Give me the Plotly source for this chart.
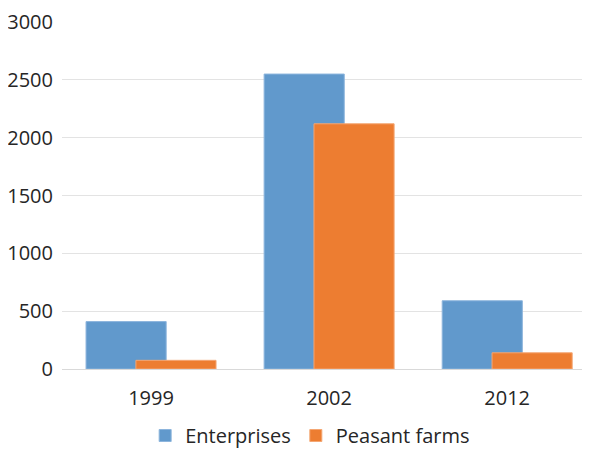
import plotly.graph_objects as go

years = ['1999', '2002', '2012']
enterprises = [410, 2550, 590]
peasant_farms = [75, 2120, 140]

fig = go.Figure()

# Enterprises (behind)
fig.add_trace(go.Bar(
    x=years,
    y=enterprises,
    name='Enterprises',
    marker=dict(color='#6199CC', line=dict(color='#8DB5DD', width=1)),
    width=0.45,
    offset=-0.365,
))

# Peasant farms (overlaps on top)
fig.add_trace(go.Bar(
    x=years,
    y=peasant_farms,
    name='Peasant farms',
    marker=dict(color='#ED7D31', line=dict(color='#F4A774', width=1)),
    width=0.45,
    offset=-0.085,
))

# page body has an 8px margin, so the figure is a bit smaller than the window
fig.update_layout(
    width=582,
    height=447,
    barmode='overlay',
    plot_bgcolor='white',
    paper_bgcolor='white',
    font=dict(family='Open Sans, Liberation Sans, sans-serif', size=20, color='#262626'),
    margin=dict(l=54, r=0, t=14, b=86),
    showlegend=True,
    legend=dict(
        orientation='h',
        x=0.47, xanchor='center',
        yref='container',
        y=-0.016, yanchor='bottom',
        font=dict(size=20, color='#262626'),
        itemwidth=30,
        traceorder='normal',
    ),
    xaxis=dict(
        range=[-0.5, 2.465],
        showgrid=False,
        showline=True,
        linecolor='#D9D9D9',
        linewidth=1,
        ticks='',
        ticklabelstandoff=11,
        tickfont=dict(size=20),
        automargin=False,
    ),
    yaxis=dict(
        range=[0, 3000],
        dtick=500,
        showgrid=True,
        gridcolor='#E3E3E3',
        gridwidth=1,
        zeroline=False,
        showline=False,
        ticks='',
        ticklabelstandoff=8,
        tickfont=dict(size=20),
        automargin=False,
    ),
)

fig.write_html('out.html')
